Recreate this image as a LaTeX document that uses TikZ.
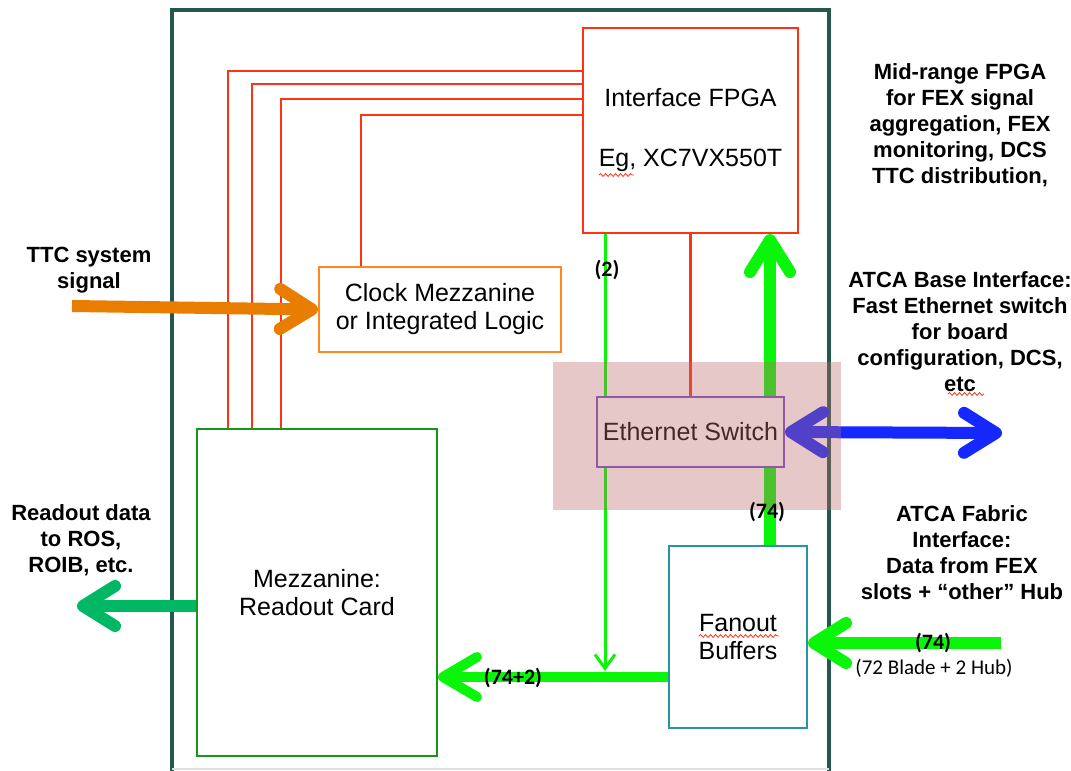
\documentclass[tikz,border=0pt]{standalone}
\usepackage{fontspec}
\setmainfont{Liberation Sans}
\newfontfamily\calfont{Carlito}
\usepackage{tikz}
\usetikzlibrary{arrows.meta,decorations.pathmorphing}

\definecolor{framegreen}{RGB}{35,88,76}
\definecolor{fpgared}{RGB}{255,50,20}
\definecolor{clockorange}{RGB}{255,135,30}
\definecolor{ttcorange}{RGB}{232,125,0}
\definecolor{mezzgreen}{RGB}{25,150,25}
\definecolor{rosgreen}{RGB}{0,184,100}
\definecolor{linkgreen}{RGB}{10,245,10}
\definecolor{fanoutteal}{RGB}{40,150,160}
\definecolor{ethpurple}{RGB}{120,80,200}
\definecolor{baseblue}{RGB}{20,40,255}
\definecolor{washred}{RGB}{188,107,107}

\tikzset{
  box/.style={draw, line width=1pt, fill=white, align=center, inner sep=0pt,
    font=\fontsize{12.5}{14}\selectfont},
  note/.style={align=center, font=\fontsize{11}{13}\selectfont\bfseries},
  count/.style={inner sep=1pt, font=\calfont\fontsize{11}{12}\selectfont\bfseries},
  redline/.style={fpgared, line width=1.2pt},
  fatarrow/.style={line width=6pt, -{Straight Barb[length=16pt,width=20pt,round]}},
  squiggle/.style={fpgared, line width=0.4pt, decorate,
    decoration={snake, amplitude=0.7pt, segment length=2.5pt}}
}

\begin{document}
\begin{tikzpicture}[x=0.5pt,y=-0.5pt]
    \useasboundingbox (0,0) rectangle (1071,771);
    \clip (0,0) rectangle (1071,771);

    % Board outline
    \draw[framegreen, line width=2pt] (172,790) -- (172,10) -- (829,10) -- (829,790);
    \draw[black!12, line width=0.6pt] (172,769) -- (829,769);

    % Boxes
    \node[box, draw=fpgared, minimum width=107.5pt, minimum height=102.5pt] (fpga) at (690.5,130.5)
        {Interface FPGA\\[16pt]Eg, XC7VX550T};
    \node[box, draw=clockorange, minimum width=121pt, minimum height=42.5pt] (clock) at (440,309.5)
        {Clock Mezzanine\\or Integrated Logic};
    \node[box, draw=mezzgreen, minimum width=120pt, minimum height=163.5pt] (mezz) at (317,592.5)
        {Mezzanine:\\Readout Card};
    \node[box, draw=fanoutteal, minimum width=69pt, minimum height=91pt] (fanout) at (738,637)
        {Fanout\\Buffers};

    % Helper points
    \coordinate (r1) at (228,71);
    \coordinate (r2) at (252,84);
    \coordinate (r3) at (281,99);
    \coordinate (r4) at (361,115);
    \coordinate (g2) at (605,0);
    \coordinate (g74) at (770,0);
    \coordinate (bus) at (0,677);
    \coordinate (bustop) at (0,671);
    \coordinate (fab) at (1001,643);
    \coordinate (base) at (1002,433);
    \coordinate (ttc) at (72,306);
    \coordinate (ros) at (77,606);

    % Red control lines
    \draw[redline] (fpga.west |- r1) -| (r1 |- mezz.north);
    \draw[redline] (fpga.west |- r2) -| (r2 |- mezz.north);
    \draw[redline] (fpga.west |- r3) -| (r3 |- mezz.north);
    \draw[redline] (fpga.west |- r4) -| (r4 |- clock.north);

    % Green data links
    \draw[linkgreen, line width=1.5pt, -{Straight Barb[length=7pt,width=10pt]}]
        (fpga.south -| g2) -- (g2 |- bustop);
    \draw[linkgreen, fatarrow] (fanout.north -| g74) -- (fpga.south -| g74);
    \draw[linkgreen, line width=5pt, -{Straight Barb[length=17pt,width=20pt,round]}]
        (fanout.west |- bus) -- (mezz.east |- bus);
    \draw[linkgreen, fatarrow] (fab) -- (fanout.east |- fab);

    % Ethernet switch
    \node[box, draw=ethpurple, minimum width=93.5pt, minimum height=35pt] (eth) at (690.5,432)
        {Ethernet Switch};
    \draw[redline] (fpga.south -| eth.north) -- (eth.north);
    \draw[baseblue, line width=6pt, {Straight Barb[length=16pt,width=20pt,round]}-{Straight Barb[length=16pt,width=20pt,round]}]
        (eth.east) -- (base);
    \fill[washred, opacity=0.37] (553,362) rectangle (841,510);

    % Outside links
    \draw[ttcorange, fatarrow] (ttc) -- (clock.west);
    \draw[rosgreen, fatarrow] (mezz.west |- ros) -- (ros);

    % Labels
    \node[note] (ttclbl) at (89,270) {TTC system\\signal};
    \node[note] (roslbl) at (81,540) {Readout data\\to ROS,\\ROIB, etc.};
    \node[note] (fpgalbl) at (960,125) {Mid-range FPGA\\for FEX signal\\aggregation, FEX\\monitoring, DCS\\TTC distribution,};
    \node[note] (baselbl) at (960,332) {ATCA Base Interface:\\Fast Ethernet switch\\for board\\configuration, DCS,\\etc};
    \node[note] (fablbl) at (962,553) {ATCA Fabric\\Interface:\\Data from FEX\\slots + “other” Hub};
    \node[count] (n2) at (607,270) {(2)};
    \node[count] (n74) at (767,512) {(74)};
    \node[count] (n76) at (513,678) {(74+2)};
    \node[count] (n74b) at (933,643) {(74)};
    \node[inner sep=1pt, font=\calfont\fontsize{10.5}{12}\selectfont] (blades) at (934,668) {(72 Blade + 2 Hub)};

    % Spelling marks
    \draw[squiggle] (599,175) -- (634,175);
    \draw[squiggle] (699,636) -- (779,636);
    \draw[squiggle] (948,394) -- (984,394);
\end{tikzpicture}
\end{document}
